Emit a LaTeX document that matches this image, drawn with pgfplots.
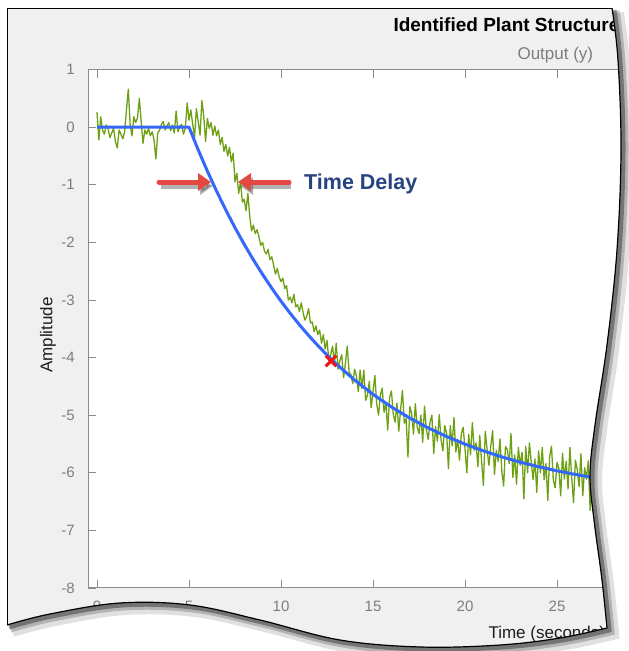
\documentclass[border=0pt]{standalone}
\usepackage{pgfplots}
\pgfplotsset{compat=1.18}
\usepackage{fontspec}
\setmainfont{Liberation Sans}
\usetikzlibrary{arrows.meta}
\definecolor{panelgray}{RGB}{240,240,240}
\definecolor{axiscol}{RGB}{140,140,140}
\definecolor{tickgray}{RGB}{125,125,125}
\definecolor{labeldark}{RGB}{30,30,30}
\definecolor{fitblue}{RGB}{52,104,252}
\definecolor{datagreen}{RGB}{110,160,20}
\definecolor{xred}{RGB}{240,20,20}
\definecolor{arrowred}{RGB}{228,72,66}
\definecolor{delayblue}{RGB}{38,68,128}
\def\bottomedge{(7,-625) (50,-614) (120,-603) (190,-605) (260,-620) (340,-640) (421,-647) (500,-645) (560,-638) (607,-628)}
\def\rightedge{(607,-628) (602,-580) (594,-520) (590,-475) (595,-425) (607,-345) (617,-250) (621,-150) (618,-60) (612,-8)}
\begin{document}
\begin{tikzpicture}[x=1pt,y=1pt]
\useasboundingbox (0,0) rectangle (629,-651);
\coordinate (axnw) at (88,-69.6);
% figure panel
\fill[panelgray] (7,-8) rectangle (680,-690);
\draw[black, line width=1pt] (7,-690) -- (7,-8) -- (680,-8);
% titles and labels
\node[anchor=base west, font=\bfseries\fontsize{19}{22}\selectfont, text=black] at (390,-31) {Identified Plant Structure};
\node[anchor=base west, font=\fontsize{17}{20}\selectfont, text=tickgray] at (514,-59) {Output (y)};
\node[rotate=90, font=\fontsize{17}{20}\selectfont, text=labeldark] at (48,-335) {Amplitude};
\node[anchor=base west, font=\fontsize{17}{20}\selectfont, text=labeldark] at (485,-638) {Time (seconds)};
\begin{axis}[
  at={(axnw)}, anchor=north west,
  scale only axis, width=551.8pt, height=518.4pt,
  xmin=-0.49, xmax=29.5, ymin=-8, ymax=1,
  xtick={0,5,...,25}, ytick={-8,-7,...,1},
  tick align=inside, major tick length=8pt,
  axis line style={axiscol, line width=1pt},
  tick style={axiscol, line width=0.8pt},
  ticklabel style={font=\fontsize{15}{18}\selectfont, text=tickgray},
  /pgf/number format/assume math mode=true,
  yticklabel style={inner sep=0pt, xshift=-13pt},
  xticklabel style={inner sep=0pt, yshift=-13pt},
  axis background/.style={fill=white},
  clip=true,
]
\addplot[datagreen, line width=1.3pt, line join=round] coordinates {
(0,0.26)(0.1,-0.22)(0.2,0.18)(0.3,-0.05)(0.4,-0.12)(0.5,0.04)(0.6,-0.02)(0.7,-0.18)(0.8,-0.1)(0.9,-0.02)
(1,-0.25)(1.1,-0.36)(1.2,-0.05)(1.3,-0.12)(1.4,-0.2)(1.5,-0.08)(1.6,0.3)(1.7,0.66)(1.8,0.05)(1.9,-0.15)
(2,0.18)(2.1,0.08)(2.2,0.16)(2.3,0.5)(2.4,0.1)(2.5,-0.28)(2.6,-0.05)(2.7,-0.12)(2.8,-0.02)(2.9,-0.15)
(3,-0.08)(3.1,-0.22)(3.2,-0.55)(3.3,-0.1)(3.4,-0.05)(3.5,0.05)(3.6,0.1)(3.7,-0.05)(3.8,0.02)(3.9,0.08)
(4,-0.06)(4.1,0.04)(4.2,-0.1)(4.3,0.28)(4.4,-0.08)(4.5,0.02)(4.6,0.05)(4.7,-0.12)(4.8,-0.02)(4.9,0.42)
(5,0.12)(5.1,0.3)(5.2,0.05)(5.3,-0.18)(5.4,0.32)(5.5,0.1)(5.6,-0.14)(5.7,0.46)(5.8,0.2)(5.9,-0.25)
(6,0.15)(6.1,-0.02)(6.2,0.08)(6.3,-0.14)(6.4,0.02)(6.5,-0.15)(6.6,-0.05)(6.7,-0.3)(6.8,-0.18)(6.9,-0.42)
(7,-0.3)(7.1,-0.5)(7.2,-0.35)(7.3,-0.6)(7.4,-0.45)(7.5,-0.95)(7.6,-0.8)(7.7,-1.15)(7.8,-0.95)(7.9,-1.3)
(8,-1.25)(8.1,-1.45)(8.2,-1.15)(8.3,-1.55)(8.4,-1.8)(8.5,-1.7)(8.6,-1.85)(8.7,-1.78)(8.8,-1.9)(8.9,-2.05)
(9,-2)(9.1,-2.15)(9.2,-2.2)(9.3,-2.12)(9.4,-2.3)(9.5,-2.25)(9.6,-2.4)(9.7,-2.55)(9.8,-2.45)(9.9,-2.6)
(10,-2.68)(10.1,-2.62)(10.2,-2.8)(10.3,-2.75)(10.4,-3)(10.5,-2.95)(10.6,-3.05)(10.7,-2.9)(10.8,-3.12)(10.9,-3.08)
(11,-3.2)(11.1,-3.05)(11.2,-3.22)(11.3,-3.35)(11.4,-3.28)(11.5,-3.15)(11.6,-3.4)(11.7,-3.38)(11.8,-3.55)(11.9,-3.45)
(12,-3.6)(12.1,-3.52)(12.2,-3.75)(12.3,-3.6)(12.4,-3.85)(12.5,-3.7)(12.6,-4.05)(12.7,-3.95)(12.8,-3.8)(12.9,-4.1)
(13,-3.75)(13.1,-4.2)(13.2,-4.05)(13.3,-3.95)(13.4,-4.35)(13.5,-4.1)(13.6,-3.8)(13.7,-4.25)(13.8,-4.3)(13.9,-4.45)
(14,-4.2)(14.1,-4.32)(14.2,-4.59)(14.3,-4.22)(14.4,-4.54)(14.5,-4.22)(14.6,-4.74)(14.7,-4.65)(14.8,-4.41)(14.9,-4.87)
(15,-4.59)(15.1,-4.31)(15.2,-4.8)(15.3,-5)(15.4,-4.65)(15.5,-4.53)(15.6,-4.95)(15.7,-4.77)(15.8,-5.26)(15.9,-4.69)
(16,-4.58)(16.1,-4.98)(16.2,-5.12)(16.3,-4.79)(16.4,-5.28)(16.5,-4.9)(16.6,-4.57)(16.7,-5.14)(16.8,-5.06)(16.9,-5.73)
(17,-4.85)(17.1,-4.97)(17.2,-5.33)(17.3,-4.8)(17.4,-5.2)(17.5,-5.32)(17.6,-5)(17.7,-5.47)(17.8,-4.84)(17.9,-5.25)
(18,-5.42)(18.1,-5.12)(18.2,-5)(18.3,-5.67)(18.4,-5.2)(18.5,-5.45)(18.6,-4.99)(18.7,-5.43)(18.8,-5.62)(18.9,-5.18)
(19,-5.32)(19.1,-5.93)(19.2,-5.18)(19.3,-5.53)(19.4,-5.04)(19.5,-5.64)(19.6,-5.42)(19.7,-5.78)(19.8,-5.32)(19.9,-5.21)
(20,-5.58)(20.1,-6)(20.2,-5.33)(20.3,-5.69)(20.4,-5.13)(20.5,-5.61)(20.6,-5.48)(20.7,-5.89)(20.8,-5.35)(20.9,-5.79)
(21,-6.22)(21.1,-5.28)(21.2,-5.59)(21.3,-5.87)(21.4,-5.54)(21.5,-5.27)(21.6,-6.03)(21.7,-5.61)(21.8,-5.8)(21.9,-5.41)
(22,-5.97)(22.1,-6.23)(22.2,-5.54)(22.3,-5.6)(22.4,-5.84)(22.5,-5.32)(22.6,-6.08)(22.7,-5.69)(22.8,-6.2)(22.9,-5.56)
(23,-5.87)(23.1,-5.64)(23.2,-6.45)(23.3,-5.54)(23.4,-6)(23.5,-5.48)(23.6,-5.81)(23.7,-6.12)(23.8,-5.76)(23.9,-6.34)
(24,-5.62)(24.1,-6)(24.2,-5.56)(24.3,-6.12)(24.4,-5.84)(24.5,-6.48)(24.6,-5.72)(24.7,-5.54)(24.8,-6.13)(24.9,-6.26)
(25,-5.82)(25.1,-5.92)(25.2,-6.4)(25.3,-5.66)(25.4,-6.11)(25.5,-5.8)(25.6,-6.28)(25.7,-5.56)(25.8,-6.09)(25.9,-6.52)
(26,-5.78)(26.1,-5.94)(26.2,-6.24)(26.3,-5.67)(26.4,-6.4)(26.5,-5.91)(26.6,-6.11)(26.7,-5.79)(26.8,-6.65)(26.9,-5.96)
(27,-5.79)(27.1,-6.24)(27.2,-6.05)(27.3,-5.9)(27.4,-6.3)(27.5,-6)
};
\addplot[fitblue, line width=3pt, line join=round] coordinates {
(0,0)(5,0)(5.5,-0.394)(6,-0.764)(6.5,-1.111)(7,-1.438)(7.5,-1.745)(8,-2.033)(8.5,-2.303)(9,-2.557)
(9.5,-2.796)(10,-3.021)(10.5,-3.232)(11,-3.430)(11.5,-3.616)(12,-3.790)(12.5,-3.955)(13,-4.109)
(14,-4.390)(15,-4.638)(16,-4.857)(17,-5.050)(18,-5.220)(19,-5.370)(20,-5.503)(21,-5.620)(22,-5.724)
(23,-5.815)(24,-5.895)(25,-5.966)(26,-6.029)(27,-6.085)(28,-6.133)
};
\addplot[only marks, mark=x, mark size=7.5pt, mark options={xred, line width=3pt}] coordinates {(12.72,-4.06)};
\end{axis}
% annotation arrows
\draw[black, opacity=0.3, line width=5pt, -{Triangle[length=13pt,width=17pt]}] (161,-186) -- (213,-186);
\draw[black, opacity=0.3, line width=5pt, -{Triangle[length=13pt,width=17pt]}] (291,-186) -- (240,-186);
\draw[arrowred, line width=5pt, line cap=round, -{Triangle[length=13pt,width=17pt]}] (159,-182) -- (211,-182);
\draw[arrowred, line width=5pt, line cap=round, -{Triangle[length=13pt,width=17pt]}] (289,-182) -- (238,-182);
\node[anchor=base west, font=\bfseries\fontsize{21.5}{24}\selectfont, text=delayblue, inner sep=0pt] at (304,-189) {Time Delay};
% torn paper edge
\fill[white] (0,-700) -- (0,-625) -- plot[smooth, tension=0.6] coordinates {\bottomedge} -- plot[smooth, tension=0.6] coordinates {\rightedge} -- (612,0) -- (700,0) -- (700,-700) -- cycle;
\begin{scope}
\clip (0,-700) -- (0,-625) -- plot[smooth, tension=0.6] coordinates {\bottomedge} -- plot[smooth, tension=0.6] coordinates {\rightedge} -- (612,0) -- (700,0) -- (700,-700) -- cycle;
\draw[black, opacity=0.12, line width=14pt, shift={(5,-5)}] plot[smooth, tension=0.6] coordinates {\bottomedge} -- plot[smooth, tension=0.6] coordinates {\rightedge};
\draw[black, opacity=0.2, line width=9pt, shift={(3,-3)}] plot[smooth, tension=0.6] coordinates {\bottomedge} -- plot[smooth, tension=0.6] coordinates {\rightedge};
\draw[black, opacity=0.35, line width=5pt, shift={(2,-2)}] plot[smooth, tension=0.6] coordinates {\bottomedge} -- plot[smooth, tension=0.6] coordinates {\rightedge};
\end{scope}
\draw[black, line width=1.2pt, line join=round] plot[smooth, tension=0.6] coordinates {\bottomedge} -- plot[smooth, tension=0.6] coordinates {\rightedge};
\end{tikzpicture}
\end{document}
